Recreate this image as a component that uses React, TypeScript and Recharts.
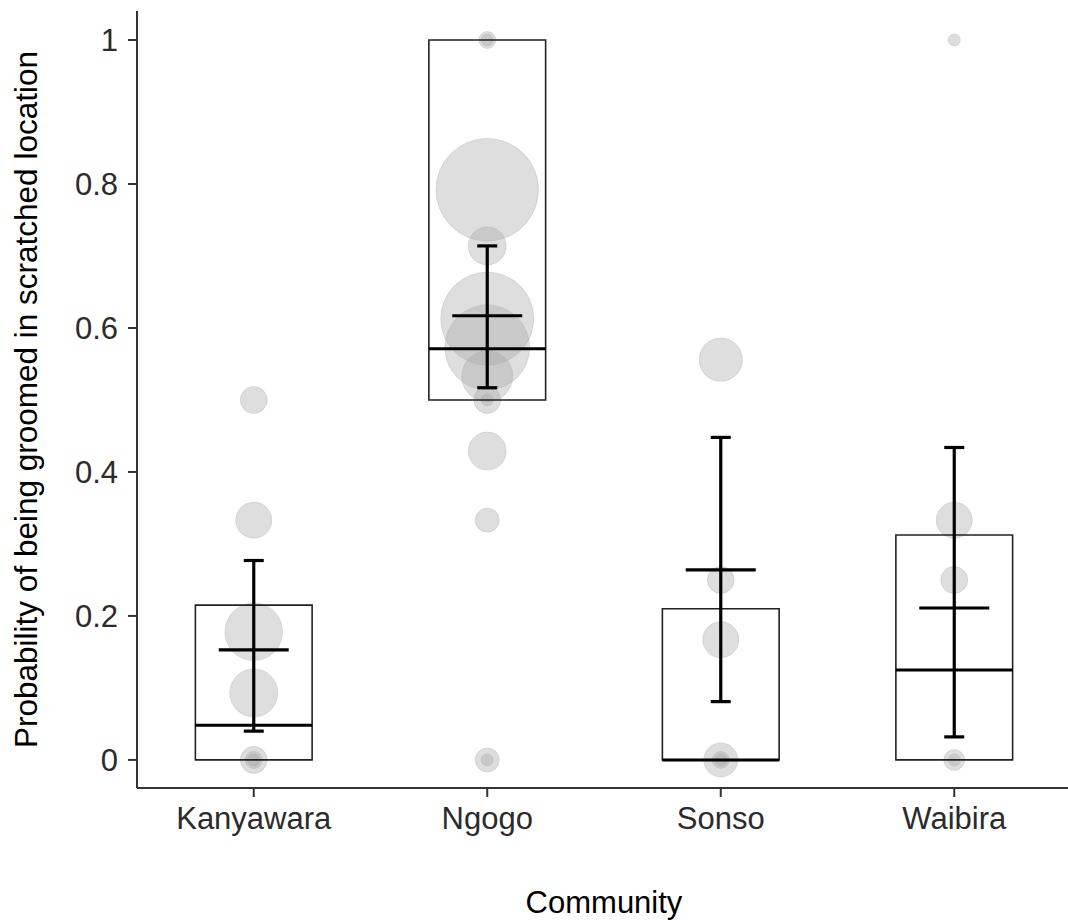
import React from 'react';
import {
  ScatterChart,
  Scatter,
  XAxis,
  YAxis,
  ZAxis,
  ReferenceArea,
  ReferenceLine,
  ErrorBar,
} from 'recharts';

// communities on the x axis, positioned at 1..4
const communities = ['Kanyawara', 'Ngogo', 'Sonso', 'Waibira'];

// box: lower / upper quartile and median
const boxLower = [0, 0.5, 0, 0];
const boxUpper = [0.215, 1.0, 0.21, 0.3125];
const medians = [0.048, 0.571, 0, 0.125];

// mean with confidence interval
const means = [0.153, 0.617, 0.264, 0.211];
const ciLower = [0.04, 0.517, 0.081, 0.032];
const ciUpper = [0.277, 0.714, 0.448, 0.434];

// individual proportions and the number of observations behind each
const kanyawaraProps = [0.5, 0.333, 0.178, 0.093, 0, 0, 0];
const kanyawaraCounts = [5, 9, 23, 16, 5, 2, 1];
const ngogoProps = [1, 1, 0.792, 0.714, 0.613, 0.573, 0.533, 0.5, 0.5, 0.429, 0.333, 0, 0];
const ngogoCounts = [2, 1, 73, 10, 60, 50, 18, 5, 1, 10, 4, 4, 1];
const sonsoProps = [0.556, 0.25, 0.167, 0, 0, 0];
const sonsoCounts = [13, 5, 9, 8, 2, 1];
const waibiraProps = [1, 0.333, 0.25, 0, 0];
const waibiraCounts = [1, 9, 5, 3, 1];

const yTicks = [0, 0.2, 0.4, 0.6, 0.8, 1];

const groups = [
  { props: kanyawaraProps, counts: kanyawaraCounts },
  { props: ngogoProps, counts: ngogoCounts },
  { props: sonsoProps, counts: sonsoCounts },
  { props: waibiraProps, counts: waibiraCounts },
];

const pointData = groups.flatMap((g, i) =>
  g.props.map((p, j) => ({ x: i + 1, y: p, n: g.counts[j] }))
);

const meanData = communities.map((_, i) => ({
  x: i + 1,
  y: means[i],
  err: [means[i] - ciLower[i], ciUpper[i] - means[i]],
}));

const FONT = '"Liberation Sans", Arial, sans-serif';
const AXIS_COLOR = '#333333';
const X_DOMAIN: [number, number] = [0.5, 4.5];
const Y_DOMAIN: [number, number] = [-0.039, 1.0403];

const MeanTick = (props: any) => {
  const { cx, cy } = props;
  return <line x1={cx - 35} x2={cx + 35} y1={cy} y2={cy} stroke="#000" strokeWidth={3.2} />;
};

const Bubble = (props: any) => {
  const { cx, cy, size } = props;
  const r = Math.sqrt((size || 0) / Math.PI);
  return (
    <circle
      cx={cx}
      cy={cy}
      r={r}
      fill="#a3a3a3"
      fillOpacity={0.36}
      stroke="#a3a3a3"
      strokeOpacity={0.3}
      strokeWidth={1}
    />
  );
};

export default function App() {
  return (
    <div style={{ position: 'absolute', left: 0, top: 0, width: 1068, height: 920, overflow: 'hidden', background: '#fff' }}>
      <ScatterChart
        width={1071}
        height={920}
        margin={{ top: 11, right: 0, bottom: 0, left: 0 }}
        style={{ fontFamily: FONT }}
      >
        <XAxis
          dataKey="x"
          type="number"
          domain={X_DOMAIN}
          ticks={[1, 2, 3, 4]}
          tickFormatter={(v: number) => communities[v - 1]}
          allowDataOverflow
          height={132}
          tickSize={9}
          tickMargin={10}
          axisLine={{ stroke: AXIS_COLOR, strokeWidth: 2 }}
          tickLine={{ stroke: AXIS_COLOR, strokeWidth: 2 }}
          tick={{ fill: '#2b2b2b', fontSize: 31, fontFamily: FONT }}
          label={{ value: 'Community', position: 'insideBottom', offset: 7, fill: '#000', fontSize: 31, fontFamily: FONT }}
        />
        <XAxis
          xAxisId="top"
          orientation="top"
          type="number"
          domain={X_DOMAIN}
          height={0}
          tick={false}
          tickLine={false}
          axisLine={{ stroke: AXIS_COLOR, strokeWidth: 2 }}
        />
        <YAxis
          dataKey="y"
          type="number"
          domain={Y_DOMAIN}
          ticks={yTicks}
          tickFormatter={(v: number) => String(v)}
          allowDataOverflow
          width={137}
          tickSize={9}
          tickMargin={10}
          axisLine={{ stroke: AXIS_COLOR, strokeWidth: 2 }}
          tickLine={{ stroke: AXIS_COLOR, strokeWidth: 2 }}
          tick={{ fill: '#2b2b2b', fontSize: 31, fontFamily: FONT }}
          label={{
            value: 'Probability of being groomed in scratched location',
            angle: -90,
            position: 'insideLeft',
            offset: 26,
            fill: '#000',
            fontSize: 31.5,
            fontFamily: FONT,
            style: { textAnchor: 'middle' },
          }}
        />
        <ZAxis dataKey="n" type="number" domain={[0, 100]} range={[0, 11310]} />

        <Scatter data={pointData} shape={Bubble} isAnimationActive={false} zIndex={50} />

        {communities.map((c, i) => (
          <ReferenceArea
            key={`box-${c}`}
            x1={i + 1 - 0.25}
            x2={i + 1 + 0.25}
            y1={boxLower[i]}
            y2={boxUpper[i]}
            fill="none"
            fillOpacity={0}
            stroke="#222"
            strokeWidth={1.6}
            zIndex={650}
          />
        ))}
        {communities.map((c, i) => (
          <ReferenceLine
            key={`median-${c}`}
            segment={[
              { x: i + 1 - 0.25, y: medians[i] },
              { x: i + 1 + 0.25, y: medians[i] },
            ]}
            stroke="#000"
            strokeWidth={3}
            zIndex={660}
          />
        ))}

        <Scatter data={meanData} shape={MeanTick} isAnimationActive={false} zIndex={700}>
          <ErrorBar dataKey="err" direction="y" width={10} stroke="#000" strokeWidth={3.2} zIndex={710} />
        </Scatter>
      </ScatterChart>
    </div>
  );
}
